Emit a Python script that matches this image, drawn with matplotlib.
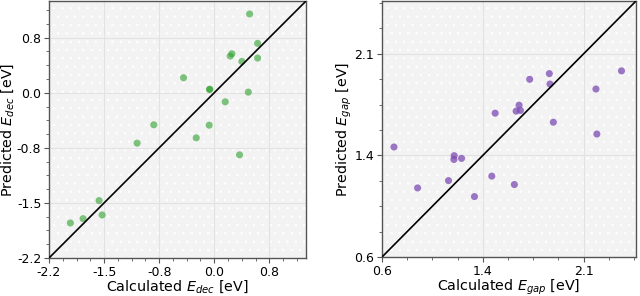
import matplotlib
matplotlib.use("Agg")
import matplotlib.pyplot as plt
from matplotlib.ticker import AutoMinorLocator, FixedLocator, FixedFormatter

plt.rcParams["hatch.linewidth"] = 0.5

# Left panel: E_dec
dec_calc = [0.532, 0.641, 0.291, 0.268, 0.427, 0.641, -0.368, -0.014, -0.010, 0.514,
            0.200, -0.773, -0.018, -0.195, -1.000, 0.395, -1.518, -1.477, -1.736, -1.909]
dec_pred = [1.123, 0.723, 0.582, 0.550, 0.477, 0.523, 0.255, 0.095, 0.098, 0.059,
            -0.073, -0.386, -0.391, -0.564, -0.636, -0.795, -1.418, -1.614, -1.664, -1.723]
dec_ticks = [-2.2, -1.45, -0.7, 0.05, 0.8]
dec_ticklabels = ["-2.2", "-1.5", "-0.8", "0.0", "0.8"]
dec_lim = (-2.2, 1.3)

# Right panel: E_gap
gap_calc = [2.382, 1.845, 1.699, 1.850, 2.192, 1.620, 1.598, 1.630, 1.442, 1.875,
            2.199, 0.689, 1.137, 1.135, 1.192, 1.417, 1.095, 1.585, 0.865, 1.288]
gap_pred = [1.974, 1.954, 1.912, 1.877, 1.840, 1.721, 1.677, 1.682, 1.662, 1.595,
            1.508, 1.412, 1.348, 1.320, 1.328, 1.197, 1.164, 1.135, 1.110, 1.046]
gap_ticks = [0.6, 1.35, 2.1]
gap_ticklabels = ["0.6", "1.4", "2.1"]
gap_lim = (0.6, 2.49)

fig = plt.figure(figsize=(6.4, 2.96), dpi=100)
ax1 = fig.add_axes([49/640, 1 - 258/296, 257/640, 257/296])
ax2 = fig.add_axes([382/640, 1 - 257/296, 254/640, 256/296])

def style(ax, x, y, color, alpha, ticks, labels, lim, xlabel, ylabel):
    ax.set_facecolor("#f3f3f3")
    ax.patch.set_hatch("..")
    ax.patch.set_edgecolor("white")
    ax.scatter(x, y, s=26, color=color, alpha=alpha, edgecolors="none", zorder=3)
    ax.plot(lim, lim, color="black", lw=1.2, zorder=4)
    ax.set_xlim(lim)
    ax.set_ylim(lim)
    for axis in (ax.xaxis, ax.yaxis):
        axis.set_major_locator(FixedLocator(ticks))
        axis.set_major_formatter(FixedFormatter(labels))
        axis.set_minor_locator(AutoMinorLocator(4))
    ax.grid(True, which="major", color="#e2e2e2", lw=0.8, zorder=0)
    ax.tick_params(which="major", length=3.5, width=0.8, labelsize=9, color="#555555", pad=2)
    ax.tick_params(which="minor", length=2, width=0.6, color="#555555")
    for sp in ax.spines.values():
        sp.set_color("#555555")
        sp.set_linewidth(1.0)
    ax.set_xlabel(xlabel, fontsize=10.3, labelpad=0)
    ax.set_ylabel(ylabel, fontsize=10.3, labelpad=0.5)

style(ax1, dec_calc, dec_pred, "#2ca02c", 0.6, dec_ticks, dec_ticklabels, dec_lim,
      r"Calculated $E_{dec}$ [eV]", r"Predicted $E_{dec}$ [eV]")
style(ax2, gap_calc, gap_pred, "#7b4bb3", 0.75, gap_ticks, gap_ticklabels, gap_lim,
      r"Calculated $E_{gap}$ [eV]", r"Predicted $E_{gap}$ [eV]")

fig.savefig("out.png", dpi=100)
